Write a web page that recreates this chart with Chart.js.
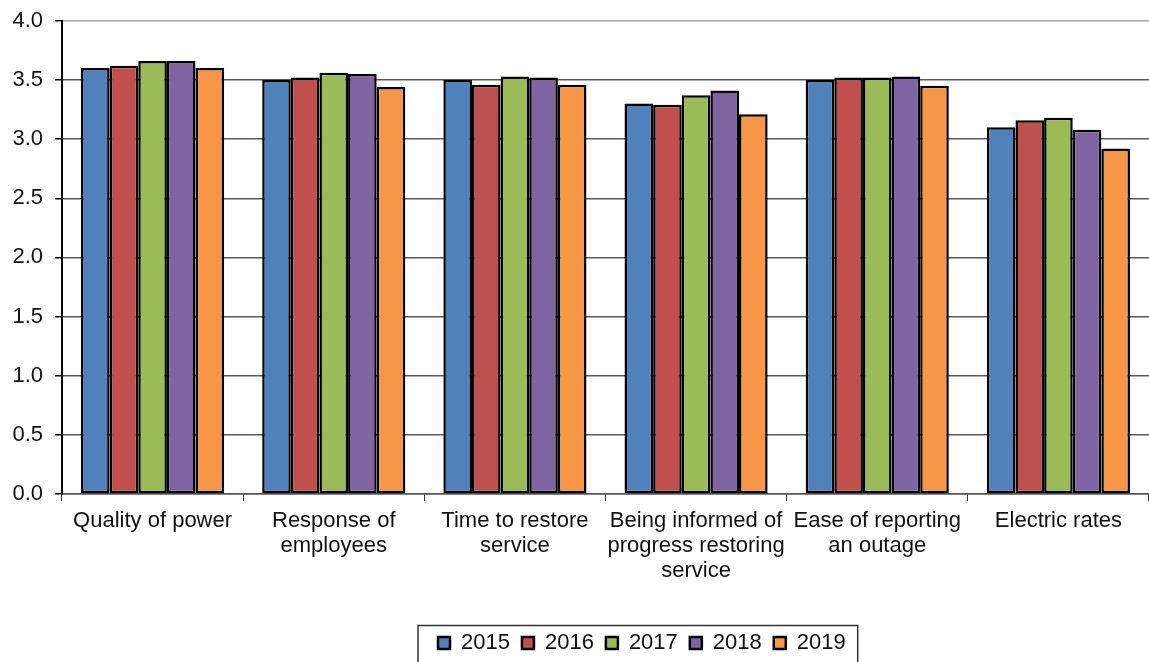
<!DOCTYPE html>
<html>
<head>
<meta charset="utf-8">
<script src="https://cdn.jsdelivr.net/npm/chart.js@4/dist/chart.umd.min.js"></script>
<style>
  html, body { margin: 0; padding: 0; background: #fff; overflow: hidden; }
  #wrap { position: relative; width: 1149px; height: 664px; }
</style>
</head>
<body>
<div id="wrap"><canvas id="chart"></canvas></div>
<script>
// Satisfaction ratings by service area, 2015-2019
const categories = [
  ['Quality of power'],
  ['Response of', 'employees'],
  ['Time to restore', 'service'],
  ['Being informed of', 'progress restoring', 'service'],
  ['Ease of reporting', 'an outage'],
  ['Electric rates']
];
const years = ['2015', '2016', '2017', '2018', '2019'];
const values2015 = [3.60, 3.50, 3.50, 3.30, 3.50, 3.10];
const values2016 = [3.62, 3.52, 3.46, 3.29, 3.52, 3.16];
const values2017 = [3.66, 3.56, 3.53, 3.37, 3.52, 3.18];
const values2018 = [3.66, 3.55, 3.52, 3.41, 3.53, 3.08];
const values2019 = [3.60, 3.44, 3.46, 3.21, 3.45, 2.92];
const yTicks = [0, 0.5, 1, 1.5, 2, 2.5, 3, 3.5, 4];

const seriesValues = [values2015, values2016, values2017, values2018, values2019];
const colors = ['#4F81BD', '#C0504D', '#9BBB59', '#8064A2', '#F79646'];

const FONT = { family: '"Liberation Sans", Arial, sans-serif', size: 22, lineHeight: 1.15 };
const YFONT = { family: '"Liberation Sans", Arial, sans-serif', size: 22, lineHeight: 0.8 };

// Moves the legend row sideways and frames it with a rectangle
const legendFrame = {
  id: 'legendFrame',
  afterLayout(chart) {
    const lg = chart.legend;
    if (!lg || !lg.lineWidths) return;
    const p = lg.options.labels.padding;
    const start = (lg.left + p + lg.right - lg.lineWidths[0]) / 2;
    const dx = 438 - start;
    lg.left += dx;
    lg.right += dx;
  },
  afterDraw(chart) {
    const lg = chart.legend;
    const boxes = lg.legendHitBoxes;
    if (!boxes || !boxes.length) return;
    const first = boxes[0], last = boxes[boxes.length - 1];
    const ctx = chart.ctx;
    ctx.save();
    ctx.strokeStyle = '#333';
    ctx.lineWidth = 1.5;
    const left = first.left - 20;
    const right = last.left + last.width + 12;
    ctx.strokeRect(left, lg.top + 5.5, right - left, 100);
    ctx.restore();
  }
};

new Chart(document.getElementById('chart'), {
  type: 'bar',
  data: {
    labels: categories,
    datasets: years.map((y, i) => ({
      label: y,
      data: seriesValues[i],
      backgroundColor: colors[i],
      borderColor: '#000',
      borderWidth: 2.5,
      borderSkipped: false,
      categoryPercentage: 0.79,
      barPercentage: 1.0
    }))
  },
  options: {
    responsive: true,
    maintainAspectRatio: false,
    animation: false,
    layout: { padding: { top: 20, right: 0, left: 0, bottom: 0 } },
    plugins: {
      legend: {
        position: 'bottom',
        labels: {
          boxWidth: 12,
          boxHeight: 12,
          padding: 12,
          color: '#111',
          font: FONT
        }
      },
      tooltip: { enabled: false }
    },
    scales: {
      x: {
        afterFit(scale) { scale.height = 126; },
        grid: {
          display: true,
          drawOnChartArea: false,
          drawTicks: true,
          tickLength: 7,
          tickColor: '#333',
          offset: true
        },
        border: { display: true, color: '#555', width: 1.5 },
        ticks: {
          color: '#111',
          font: FONT,
          padding: 7,
          maxRotation: 0,
          minRotation: 0,
          autoSkip: false
        }
      },
      y: {
        min: 0,
        max: 4,
        afterFit(scale) { scale.width = 62; },
        afterBuildTicks(scale) { scale.ticks = yTicks.map(v => ({ value: v })); },
        grid: {
          color: ctx => ctx.tick && ctx.tick.value === 4 ? '#a6a6a6' : (ctx.tick && ctx.tick.value === 0 ? '#555' : '#5a5a5a'),
          lineWidth: 1.5,
          tickLength: 7,
          tickColor: '#000'
        },
        border: { display: true, color: '#000', width: 2 },
        ticks: {
          color: '#111',
          font: YFONT,
          padding: 12,
          callback: v => Number(v).toFixed(1)
        }
      }
    }
  },
  plugins: [legendFrame]
});
</script>
</body>
</html>
